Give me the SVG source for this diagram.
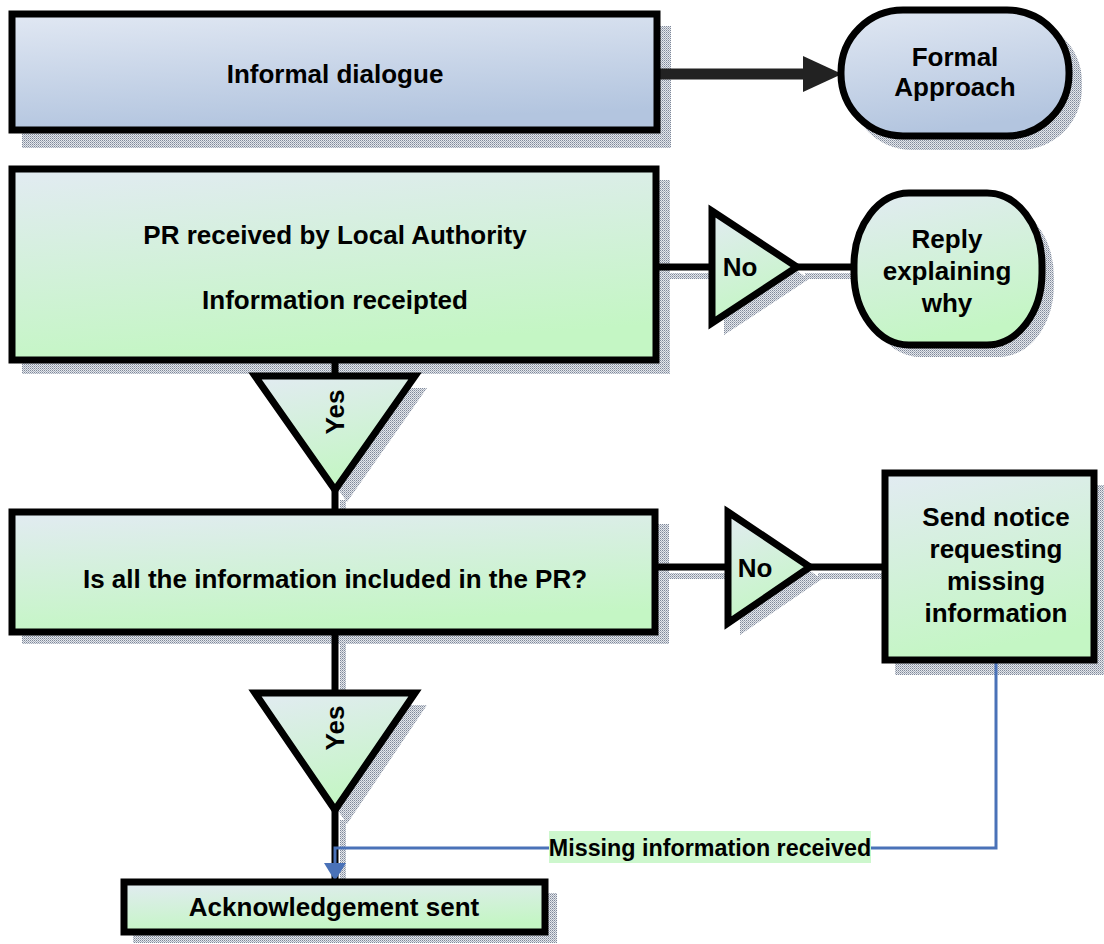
<svg xmlns="http://www.w3.org/2000/svg" width="1104" height="944" viewBox="0 0 1104 944">
  <style>
    .box { stroke: #000; stroke-width: 7; stroke-linejoin: miter; }
    .green { fill: url(#gGreen); }
    .blue { fill: url(#gBlue); }
    .shadow { fill: url(#stipple); stroke: none; }
    .lbl { font-family: "Liberation Sans", Arial, sans-serif; font-weight: bold; font-size: 26px; fill: #000; text-anchor: middle; }
    .small { font-size: 23.3px; }
    .conn { stroke: #000; stroke-width: 7; fill: none; }
    .thick { stroke: #222; stroke-width: 11; }
    .connShadow { stroke: url(#stipple); stroke-width: 6; fill: none; }
    .blueline { stroke: #4a72b8; stroke-width: 3; fill: none; }
  </style>
  <defs>
    <pattern id="stipple" width="2" height="2" patternUnits="userSpaceOnUse">
      <rect x="0" y="0" width="2" height="2" fill="#e4e7ec"/>
      <rect x="0" y="0" width="1" height="1" fill="#7f8899"/>
      <rect x="1" y="1" width="1" height="1" fill="#a9b0bc"/>
    </pattern>
    <linearGradient id="gGreen" x1="0" y1="0" x2="0.25" y2="1">
      <stop offset="0" stop-color="#e2ebf2"/>
      <stop offset="1" stop-color="#c4f6c4"/>
    </linearGradient>
    <linearGradient id="gBlue" x1="0" y1="0" x2="0.25" y2="1">
      <stop offset="0" stop-color="#e1e8f3"/>
      <stop offset="1" stop-color="#b3c5df"/>
    </linearGradient>
  </defs>

  <!-- shadows -->
  <g id="shadows">
    <rect class="shadow" x="22" y="26" width="649" height="122"/>
    <rect class="shadow" x="850" y="20" width="232" height="130" rx="62" ry="62"/>
    <rect class="shadow" x="22" y="180" width="648" height="194"/>
    <polygon class="shadow" points="724,222 809,279 724,335"/>
    <rect class="shadow" x="865" y="205" width="189" height="152" rx="55" ry="72"/>
    <polygon class="shadow" points="267,388 427,388 347,502"/>
    <rect class="shadow" x="22" y="524" width="647" height="120"/>
    <polygon class="shadow" points="740,524 822,579 740,635"/>
    <rect class="shadow" x="895" y="485" width="209" height="190"/>
    <polygon class="shadow" points="267,705 427,705 347,824"/>
    <rect class="shadow" x="133" y="893" width="424" height="50"/>
    <line class="connShadow" x1="343" y1="500" x2="343" y2="524"/>
    <line class="connShadow" x1="343" y1="640" x2="343" y2="705"/>
    <line class="connShadow" x1="343" y1="820" x2="343" y2="892"/>
    <line class="connShadow" x1="660" y1="276" x2="720" y2="276"/>
    <line class="connShadow" x1="805" y1="276" x2="862" y2="276"/>
    <line class="connShadow" x1="660" y1="576" x2="735" y2="576"/>
    <line class="connShadow" x1="818" y1="576" x2="892" y2="576"/>
  </g>

  <!-- connectors -->
  <g id="connectors">
    <line class="conn thick" x1="655" y1="74" x2="808" y2="74"/>
    <circle cx="654" cy="74" r="6" fill="#222"/>
    <polygon points="803,56 842,74 803,92" fill="#222"/>
    <line class="conn" x1="655" y1="267" x2="712" y2="267"/>
    <line class="conn" x1="797" y1="267" x2="855" y2="267"/>
    <line class="conn" x1="335" y1="360" x2="335" y2="376"/>
    <line class="conn" x1="335" y1="488" x2="335" y2="512"/>
    <line class="conn" x1="655" y1="567" x2="728" y2="567"/>
    <line class="conn" x1="810" y1="567" x2="886" y2="567"/>
    <line class="conn" x1="335" y1="632" x2="335" y2="693"/>
    <line class="conn" x1="335" y1="810" x2="335" y2="880"/>
    <polyline class="blueline" points="996,661 996,848 335,848 335,866"/>
    <polygon points="324,863 346,863 335,881" fill="#4a72b8"/>
  </g>

  <g id="node-informal">
    <rect class="box blue" x="12" y="14" width="645" height="116"/>
    <text class="lbl" x="335" y="83">Informal dialogue</text>
  </g>

  <g id="node-formal">
    <rect class="box blue" x="841" y="10" width="228" height="126" rx="62" ry="62"/>
    <text class="lbl" x="955" y="66">Formal</text>
    <text class="lbl" x="955" y="96">Approach</text>
  </g>

  <g id="node-pr">
    <rect class="box green" x="12" y="169" width="644" height="191"/>
    <text class="lbl" x="335" y="244">PR received by Local Authority</text>
    <text class="lbl" x="335" y="309">Information receipted</text>
  </g>

  <g id="node-no1">
    <polygon class="box green" points="712,211 797,267 712,323"/>
    <text class="lbl" x="740" y="276">No</text>
  </g>

  <g id="node-reply">
    <rect class="box green" x="854" y="193" width="188" height="152" rx="55" ry="72"/>
    <text class="lbl" x="947" y="248">Reply</text>
    <text class="lbl" x="947" y="280">explaining</text>
    <text class="lbl" x="947" y="312">why</text>
  </g>

  <g id="node-yes1">
    <polygon class="box green" points="255,376 415,376 335,490"/>
    <text class="lbl" transform="translate(344,412) rotate(-90)">Yes</text>
  </g>

  <g id="node-info">
    <rect class="box green" x="12" y="512" width="643" height="120"/>
    <text class="lbl" x="335" y="588">Is all the information included in the PR?</text>
  </g>

  <g id="node-no2">
    <polygon class="box green" points="728,512 810,567 728,623"/>
    <text class="lbl" x="755" y="577">No</text>
  </g>

  <g id="node-sendnotice">
    <rect class="box green" x="885" y="473" width="209" height="187"/>
    <text class="lbl" x="996" y="526">Send notice</text>
    <text class="lbl" x="996" y="558">requesting</text>
    <text class="lbl" x="996" y="590">missing</text>
    <text class="lbl" x="996" y="622">information</text>
  </g>

  <g id="node-yes2">
    <polygon class="box green" points="255,693 415,693 335,810"/>
    <text class="lbl" transform="translate(344,728) rotate(-90)">Yes</text>
  </g>

  <g id="label-missing">
    <rect x="549" y="831" width="322" height="32" fill="#cdf7cd"/>
    <text class="lbl small" x="710" y="856">Missing information received</text>
  </g>

  <g id="node-ack">
    <rect class="box green" x="124" y="882" width="421" height="50"/>
    <text class="lbl" x="334" y="916">Acknowledgement sent</text>
  </g>
</svg>
